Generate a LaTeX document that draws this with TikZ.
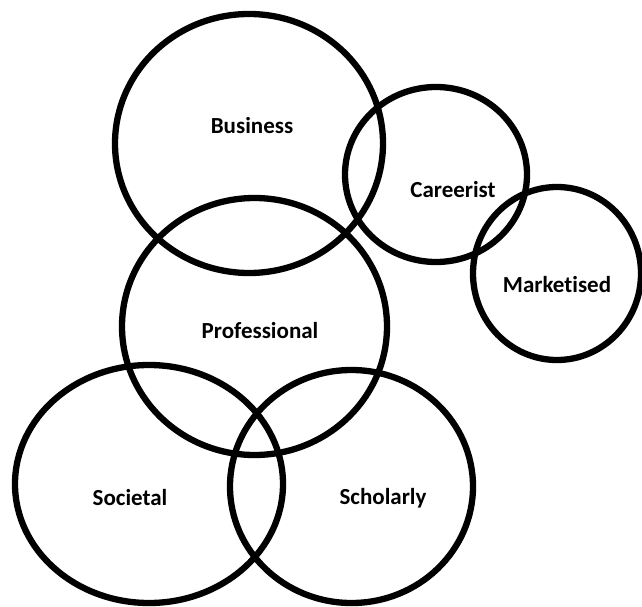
\documentclass[tikz,border=0pt]{standalone}
\usepackage{fontspec}
\setmainfont[Ligatures=NoCommon]{Carlito}
\usetikzlibrary{shapes.geometric}
\begin{document}
\begin{tikzpicture}[x=1pt,y=-1pt,
  ring/.style={draw=black, line width=6.3pt, ellipse, inner sep=0pt, outer sep=0pt},
  lbl/.style={font=\fontsize{23}{27}\selectfont\bfseries, text=black, inner sep=0pt}]
  \fill[white] (0,0) rectangle (642,607);
  \useasboundingbox (0,0) rectangle (642,607);
  % rings: centre, width, height
  \node[ring, minimum width=268pt, minimum height=259pt] (business) at (249,143.5) {};
  \node[ring, minimum width=182pt, minimum height=175pt] (careerist) at (436,174.5) {};
  \node[ring, minimum width=168pt, minimum height=173pt] (marketised) at (557,273.5) {};
  \node[ring, minimum width=265pt, minimum height=257pt] (professional) at (254.5,326.5) {};
  \node[ring, minimum width=268pt, minimum height=238pt] (societal) at (149,484) {};
  \node[ring, minimum width=243pt, minimum height=233pt] (scholarly) at (351.5,486.5) {};
  % labels
  \node[lbl] (tbusiness) at (252,126) {Business};
  \node[lbl] (tcareerist) at (453,190) {Careerist};
  \node[lbl] (tmarketised) at (557,285) {Marketised};
  \node[lbl] (tprofessional) at (260,331) {Professional};
  \node[lbl] (tsocietal) at (130,498) {Societal};
  \node[lbl] (tscholarly) at (383,498) {Scholarly};
\end{tikzpicture}
\end{document}
